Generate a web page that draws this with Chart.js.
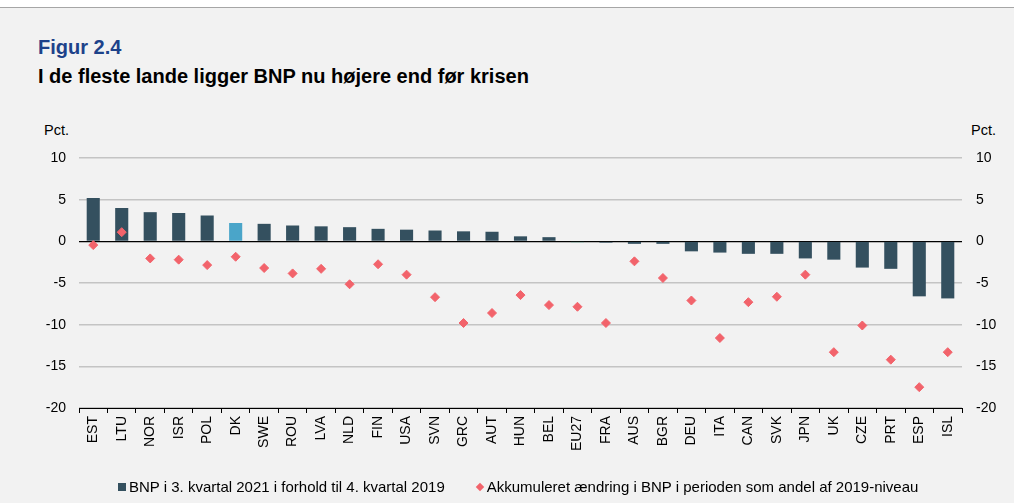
<!DOCTYPE html>
<html>
<head>
<meta charset="utf-8">
<script src="https://cdn.jsdelivr.net/npm/chart.js@4"></script>
<style>
  html, body { margin: 0; padding: 0; }
  body { width: 1014px; height: 503px; background: #f2f2f2; position: relative; overflow: hidden; font-family: "Liberation Sans", Arial, sans-serif; }
  #topbar { position: absolute; left: 0; top: 0; width: 1014px; height: 7px; background: #fff; border-bottom: 1px solid #a6a6a6; }
  #fig { position: absolute; left: 38px; top: 36px; font-weight: bold; font-size: 20px; color: #1d428a; white-space: nowrap; }
  #title { position: absolute; left: 38px; top: 65px; font-weight: bold; font-size: 20px; color: #000; white-space: nowrap; }
  .unit { position: absolute; top: 122px; font-size: 14.5px; color: #000; }
  #wrap { position: absolute; left: 0; top: 0; width: 1014px; height: 503px; }
  #legend { position: absolute; left: 118px; top: 478px; font-size: 15px; color: #000; display: flex; align-items: center; white-space: nowrap; }
  .item { display: flex; align-items: center; }
  .item + .item { margin-left: 31px; }
  .sw { display: inline-block; margin-right: 3px; }
  .sq { width: 8px; height: 8px; }
  .dm { width: 6px; height: 6px; transform: rotate(45deg); margin-left: 1px; margin-right: 4px; }
</style>
</head>
<body>
<div id="topbar"></div>
<div id="fig">Figur 2.4</div>
<div id="title">I de fleste lande ligger BNP nu højere end før krisen</div>
<div class="unit" style="left:44px">Pct.</div>
<div class="unit" style="left:971px">Pct.</div>
<div id="wrap"><canvas id="chart"></canvas></div>
<div id="legend"></div>
<script>
// data
const countries = ['EST', 'LTU', 'NOR', 'ISR', 'POL', 'DK', 'SWE', 'ROU', 'LVA', 'NLD', 'FIN', 'USA', 'SVN', 'GRC', 'AUT', 'HUN',
    'BEL', 'EU27', 'FRA', 'AUS', 'BGR', 'DEU', 'ITA', 'CAN', 'SVK', 'JPN', 'UK', 'CZE', 'PRT', 'ESP', 'ISL'];
const bnpQ3 = [5.2, 4.0, 3.5, 3.4, 3.1, 2.2, 2.1, 1.9, 1.8, 1.7, 1.5, 1.4, 1.3, 1.2, 1.15, 0.6,
    0.5, -0.1, -0.15, -0.3, -0.3, -1.2, -1.35, -1.5, -1.5, -2.05, -2.2, -3.15, -3.3, -6.6, -6.85];
const accumChange = [-0.45, 1.1, -2.05, -2.2, -2.85, -1.85, -3.2, -3.85, -3.3, -5.15, -2.75, -4.0, -6.7, -9.8, -8.6, -6.45,
    -7.65, -7.85, -9.8, -2.4, -4.4, -7.1, -11.6, -7.3, -6.65, -4.0, -13.3, -10.1, -14.2, -17.5, -13.3];
const yTicks = [10, 5, 0, -5, -10, -15, -20];

const barColor = '#34505f';
const barColors = countries.map(c => c === 'DK' ? '#4aa5c9' : (c === 'EU27' ? '#3aa886' : barColor));
const dotColor = '#f2636b';
const tickFont = { family: 'Liberation Sans', size: 14 };

const ctx = document.getElementById('chart').getContext('2d');
const chart = new Chart(ctx, {
    type: 'bar',
    data: {
        labels: countries,
        datasets: [{
            label: 'BNP i 3. kvartal 2021 i forhold til 4. kvartal 2019',
            data: bnpQ3,
            backgroundColor: barColors,
            borderWidth: 0,
            barPercentage: 0.46,
            categoryPercentage: 1,
            order: 1
        }, {
            type: 'line',
            label: 'Akkumuleret ændring i BNP i perioden som andel af 2019-niveau',
            data: accumChange,
            showLine: false,
            pointStyle: 'rectRot',
            pointRadius: 4.5,
            pointBackgroundColor: dotColor,
            pointBorderColor: dotColor,
            borderColor: dotColor,
            order: 0
        }]
    },
    options: {
        responsive: true,
        maintainAspectRatio: false,
        animation: false,
        layout: { padding: { top: 158, left: 0, right: 0, bottom: 35 } },
        scales: {
            x: {
                offset: true,
                grid: {
                    offset: true,
                    drawOnChartArea: false,
                    drawTicks: true,
                    tickLength: 5,
                    color: '#000'
                },
                border: { display: true, color: '#000', width: 1 },
                ticks: {
                    color: '#000',
                    font: tickFont,
                    minRotation: 90,
                    maxRotation: 90,
                    autoSkip: false,
                    padding: 3
                },
                afterFit: (scale) => { scale.height = 60; }
            },
            y: {
                position: 'left',
                min: -20,
                max: 10,
                afterBuildTicks: (scale) => { scale.ticks = yTicks.map(v => ({ value: v })); },
                grid: {
                    drawTicks: false,
                    color: (c) => (c.tick && c.tick.value === 0) ? '#000' : '#c4c4c4',
                    lineWidth: (c) => (c.tick && c.tick.value === 0) ? 1.2 : 1.5
                },
                border: { display: false },
                ticks: { color: '#000', font: tickFont, padding: 13 },
                afterFit: (scale) => { scale.width = 79; }
            },
            y2: {
                position: 'right',
                min: -20,
                max: 10,
                afterBuildTicks: (scale) => { scale.ticks = yTicks.map(v => ({ value: v })); },
                grid: { display: false, drawTicks: false },
                border: { display: false },
                ticks: { color: '#000', font: tickFont, padding: 14 },
                afterFit: (scale) => { scale.width = 52; }
            }
        },
        plugins: {
            legend: { display: false },
            tooltip: { enabled: false }
        }
    }
});

// legend built from the chart's datasets
const legendDiv = document.getElementById('legend');
chart.data.datasets.forEach((ds, i) => {
    const item = document.createElement('span');
    item.className = 'item';
    const sw = document.createElement('span');
    sw.className = 'sw ' + (i === 0 ? 'sq' : 'dm');
    sw.style.background = i === 0 ? barColor : dotColor;
    item.appendChild(sw);
    item.appendChild(document.createTextNode(ds.label));
    legendDiv.appendChild(item);
});
</script>
</body>
</html>
